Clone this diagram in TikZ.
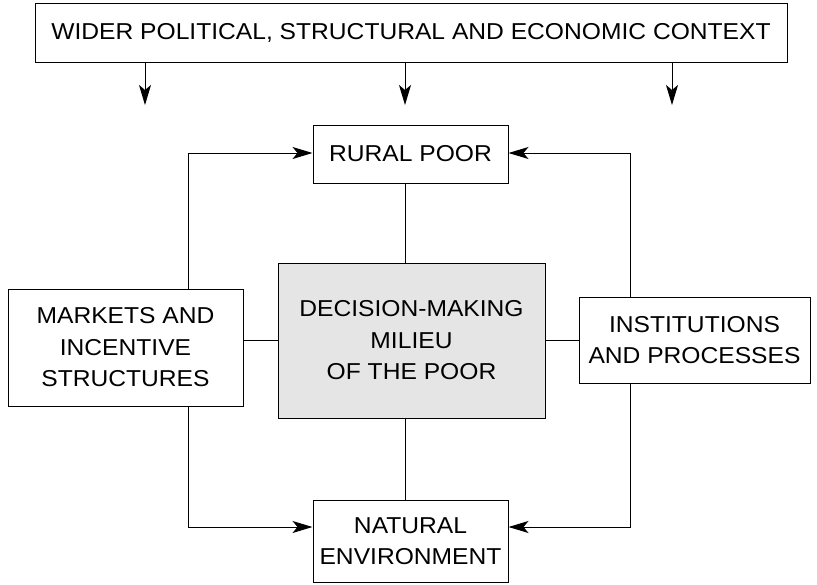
\documentclass[tikz,border=0pt]{standalone}
\usepackage{fontspec}
\setmainfont{Liberation Sans}[FakeStretch=1.07]
\usetikzlibrary{arrows.meta}

\begin{document}
\begin{tikzpicture}[x=1pt, y=-1pt,
    box/.style={draw=black, line width=1pt, fill=white, align=center, inner sep=0pt,
                font=\fontsize{23}{31.5}\selectfont},
    arr/.style={line width=1pt, -{Stealth[length=20pt, width=12pt, inset=5pt]}}]
            \useasboundingbox (0,0) rectangle (817,584);

            % Cajas
            \node[box, minimum width=752pt, minimum height=59pt] (ctx) at (411,32.5)
                {WIDER POLITICAL, STRUCTURAL AND ECONOMIC CONTEXT};
            \node[box, minimum width=195pt, minimum height=58pt] (rural) at (410.5,154) {RURAL POOR};
            \node[box, minimum width=195pt, minimum height=82pt] (nature) at (410.5,541) {NATURAL\\ENVIRONMENT};

            % Puntos de las esquinas
            \coordinate (lt) at (188,153);
            \coordinate (lb) at (188,527);
            \coordinate (rt) at (630,153);
            \coordinate (rb) at (630,527);
            \coordinate (mid) at (405,340);

            % Lazos laterales
            \draw[arr] (lb) -- (lt) -- (rural.west |- lt);
            \draw[arr] (lt) -- (lb) -- (nature.west |- lb);
            \draw[arr] (rb) -- (rt) -- (rural.east |- rt);
            \draw[arr] (rt) -- (rb) -- (nature.east |- rb);

            \node[box, fill=black!10, minimum width=267pt, minimum height=155pt] (milieu) at (411.5,340.5)
                {DECISION-MAKING\\MILIEU\\OF THE POOR};
            \node[box, minimum width=235pt, minimum height=117pt] (markets) at (125.5,347.5)
                {MARKETS AND\\INCENTIVE\\STRUCTURES};
            \node[box, minimum width=231pt, minimum height=86pt] (inst) at (694.5,340)
                {INSTITUTIONS\\AND PROCESSES};

            % Lineas al centro
            \draw[line width=1pt] (rural.south -| mid) -- (milieu.north -| mid);
            \draw[line width=1pt] (milieu.south -| mid) -- (nature.north -| mid);
            \draw[line width=1pt] (markets.east |- mid) -- (milieu.west |- mid);
            \draw[line width=1pt] (milieu.east |- mid) -- (inst.west |- mid);

            % Flechas del contexto
            \coordinate (a1) at (145,105);
            \coordinate (a2) at (405,105);
            \coordinate (a3) at (672,105);
            \draw[arr] (ctx.south -| a1) -- (a1);
            \draw[arr] (ctx.south -| a2) -- (a2);
            \draw[arr] (ctx.south -| a3) -- (a3);
        \end{tikzpicture}
\end{document}
